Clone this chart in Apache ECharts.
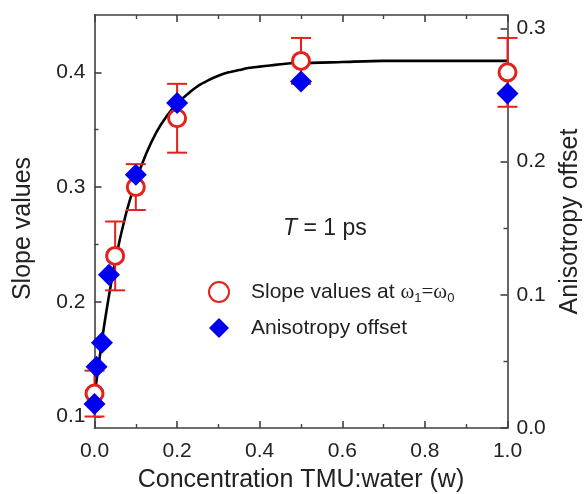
<!DOCTYPE html>
<html>
<head>
<meta charset="utf-8">
<script src="https://cdn.jsdelivr.net/npm/echarts@6/dist/echarts.min.js"></script>
<style>
html,body{margin:0;padding:0;background:#fff;}
#chart{width:584px;height:494px;}
</style>
</head>
<body>
<div id="chart"></div>
<script>
// ---- data ----
var slopeConc = [0, 0.05, 0.1, 0.2, 0.5, 1.0];
var slopeVals = [0.12, 0.24, 0.30, 0.36, 0.41, 0.40];
var slopeErr  = [0.02, 0.03, 0.02, 0.03, 0.02, 0.03];

var anisoConc = [0, 0.005, 0.018, 0.035, 0.1, 0.2, 0.5, 1.0];
var anisoVals = [0.018, 0.046, 0.064, 0.115, 0.19, 0.244, 0.26, 0.251];

// fitted curve
var fitConc = [0, 0.025, 0.05, 0.075, 0.1, 0.125, 0.15, 0.175, 0.2, 0.225, 0.25, 0.275, 0.3, 0.325, 0.35, 0.375, 0.4, 0.425, 0.45, 0.475, 0.5, 0.6, 0.7, 0.8, 0.9, 1.0];
var fitVals = [0.118, 0.183, 0.235, 0.275, 0.305, 0.329, 0.348, 0.362, 0.373, 0.381, 0.388, 0.393, 0.397, 0.400, 0.402, 0.404, 0.405, 0.406, 0.407, 0.408, 0.408, 0.409, 0.41, 0.41, 0.41, 0.41];

var leftTicks = [0.1, 0.2, 0.3, 0.4];
var leftMinor = [0.15, 0.25, 0.35];
var rightTicks = [0.0, 0.1, 0.2, 0.3];
var rightMinor = [0.05, 0.15, 0.25];

var RED = '#e4211c', BLUE = '#0000f0', AX = '#404040', TXT = '#222';
var FONT = 'Liberation Sans';

function zip(a, b) { return a.map(function (v, i) { return [v, b[i]]; }); }

var chart = echarts.init(document.getElementById('chart'));
var axLine = { show: true, onZero: false, lineStyle: { color: AX, width: 1.6 } };
var tickMajor = { show: true, inside: true, length: 7, lineStyle: { color: AX, width: 1.6 } };
var lbl = { color: TXT, fontSize: 21, fontFamily: FONT, margin: 9,
  formatter: function (v) { return (+v).toFixed(1); } };

var option = {
  animation: false,
  backgroundColor: '#fff',
  textStyle: { fontFamily: FONT },
  title: {
    text: '{i|T} = 1 ps', left: 283, top: 217, padding: 0,
    textStyle: { fontSize: 23, fontWeight: 'normal', color: TXT, fontFamily: FONT,
      rich: { i: { fontStyle: 'italic', fontSize: 23, color: TXT, fontFamily: FONT } } }
  },
  legend: {
    orient: 'vertical', left: 208, top: 281, padding: 0, itemWidth: 20, itemHeight: 20, itemGap: 13,
    data: ['slope', 'aniso'],
    formatter: function (n) {
      return n === 'slope' ? 'Slope values at {w|ω}{s|1}{w|=ω}{s|0}' : 'Anisotropy offset';
    },
    textStyle: { fontSize: 21, color: TXT, fontFamily: FONT, padding: [0, 0, 0, 17],
      rich: {
        w: { fontFamily: 'Liberation Serif', fontSize: 21, color: TXT },
        s: { fontSize: 13, color: TXT, fontFamily: FONT, padding: [12, 0, 0, 0] }
      } }
  },
  grid: { left: 94.5, right: 76.5, top: 15, bottom: 66, containLabel: false, outerBoundsMode: 'none' },
  xAxis: [
    { type: 'value', position: 'bottom', min: 0, max: 1, interval: 0.2,
      axisLine: axLine, axisTick: tickMajor,
      minorTick: { show: true, splitNumber: 2, length: 4, lineStyle: { color: AX, width: 1.4 } },
      splitLine: { show: false }, minorSplitLine: { show: false },
      axisLabel: Object.assign({}, lbl, { margin: 13 }),
      name: 'Concentration TMU:water (w)', nameLocation: 'middle', nameGap: 40,
      nameTextStyle: { fontSize: 25, color: TXT, fontFamily: FONT } },
    { type: 'value', position: 'top', min: 0, max: 1, interval: 0.2,
      axisLine: axLine, axisTick: tickMajor,
      minorTick: { show: true, splitNumber: 2, length: 4, lineStyle: { color: AX, width: 1.4 } },
      splitLine: { show: false }, axisLabel: { show: false } }
  ],
  yAxis: [
    { type: 'value', position: 'left', min: 0.09, max: 0.45,
      axisLine: axLine,
      axisTick: Object.assign({}, tickMajor, { customValues: leftTicks }),
      axisLabel: Object.assign({}, lbl, { customValues: leftTicks }),
      splitLine: { show: false },
      name: 'Slope values', nameLocation: 'middle', nameRotate: 90, nameGap: 59,
      nameTextStyle: { fontSize: 25, color: TXT, fontFamily: FONT, padding: [0, 14, 0, 0] } },
    { type: 'value', position: 'right', min: 0, max: 0.31,
      axisLine: axLine,
      axisTick: Object.assign({}, tickMajor, { customValues: rightTicks }),
      axisLabel: Object.assign({}, lbl, { customValues: rightTicks }),
      splitLine: { show: false },
      name: 'Anisotropy offset', nameLocation: 'middle', nameRotate: 90, nameGap: 50,
      nameTextStyle: { fontSize: 25, color: TXT, fontFamily: FONT } },
    { type: 'value', position: 'left', min: 0.09, max: 0.45,
      axisLine: { show: false, onZero: false },
      axisTick: { show: true, inside: true, length: 4, customValues: leftMinor, lineStyle: { color: AX, width: 1.4 } },
      axisLabel: { show: false }, splitLine: { show: false } },
    { type: 'value', position: 'right', min: 0, max: 0.31,
      axisLine: { show: false, onZero: false },
      axisTick: { show: true, inside: true, length: 4, customValues: rightMinor, lineStyle: { color: AX, width: 1.4 } },
      axisLabel: { show: false }, splitLine: { show: false } }
  ],
  series: [
    { name: 'fit', type: 'line', xAxisIndex: 0, yAxisIndex: 0, data: zip(fitConc, fitVals),
      showSymbol: false, smooth: 0.25, z: 2,
      lineStyle: { color: '#000', width: 2.6 } },
    { name: 'err', type: 'custom', xAxisIndex: 0, yAxisIndex: 0, z: 3,
      data: slopeConc.map(function (x, i) { return [x, slopeVals[i] - slopeErr[i], slopeVals[i] + slopeErr[i]]; }),
      renderItem: function (params, api) {
        var lo = api.coord([api.value(0), api.value(1)]);
        var hi = api.coord([api.value(0), api.value(2)]);
        var hw = 10;
        var st = { stroke: RED, lineWidth: 2 };
        return { type: 'group', children: [
          { type: 'line', shape: { x1: lo[0], y1: lo[1], x2: hi[0], y2: hi[1] }, style: st },
          { type: 'line', shape: { x1: lo[0] - hw, y1: lo[1], x2: lo[0] + hw, y2: lo[1] }, style: st },
          { type: 'line', shape: { x1: hi[0] - hw, y1: hi[1], x2: hi[0] + hw, y2: hi[1] }, style: st }
        ] };
      } },
    { name: 'slope', type: 'scatter', xAxisIndex: 0, yAxisIndex: 0, data: zip(slopeConc, slopeVals),
      symbol: 'circle', symbolSize: 17, z: 4,
      itemStyle: { color: '#fff', borderColor: RED, borderWidth: 3, opacity: 1 } },
    { name: 'aniso', type: 'scatter', xAxisIndex: 0, yAxisIndex: 1, data: zip(anisoConc, anisoVals),
      symbol: 'diamond', symbolSize: 22, z: 5,
      itemStyle: { color: BLUE, opacity: 1 } }
  ]
};
chart.setOption(option);
</script>
</body>
</html>
